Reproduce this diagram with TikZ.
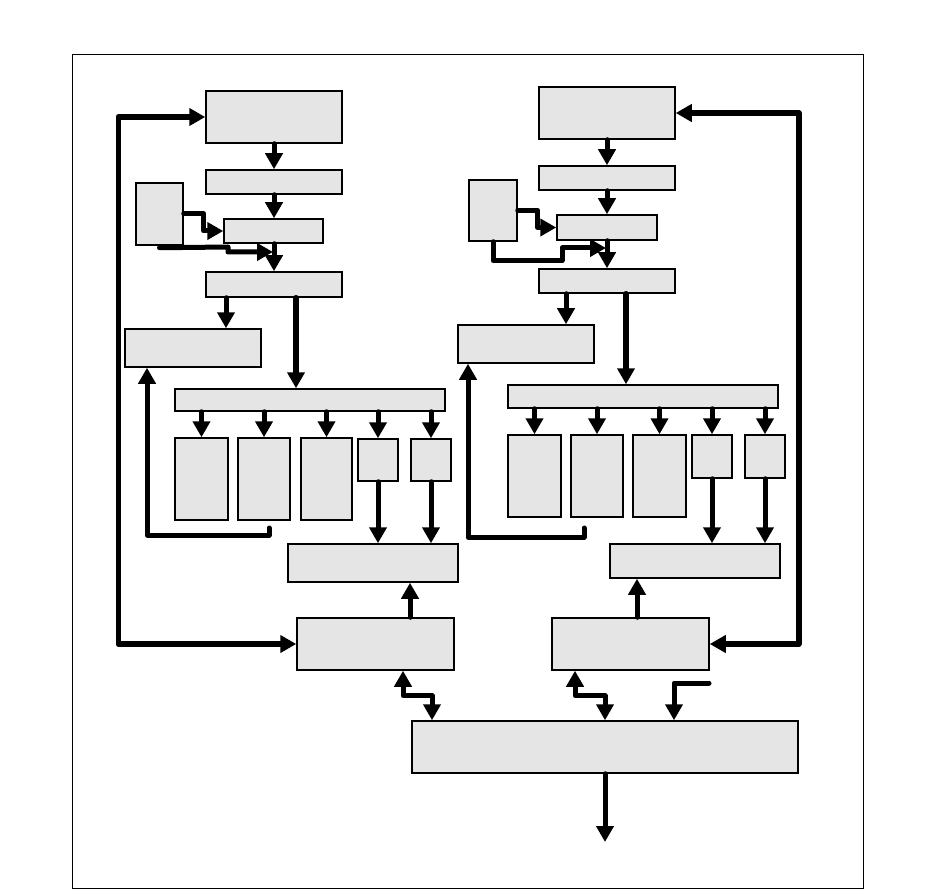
\documentclass[tikz,border=0pt]{standalone}
\usetikzlibrary{arrows.meta}
\definecolor{boxgray}{HTML}{E5E5E5}
\begin{document}
\begin{tikzpicture}[
  x=1pt, y=-1pt,
  box/.style={draw, fill=boxgray, line width=1.5pt, inner sep=0pt},
  arr/.style={-{Triangle[length=16pt,width=17pt]}, line width=5pt, line cap=round, line join=round},
  dbl/.style={arr, {Triangle[length=16pt,width=17pt]}-{Triangle[length=16pt,width=17pt]}}
]
\useasboundingbox (0,0) rectangle (936,890);
\draw[line width=1pt] (72,55) rectangle (863,888);

% left half
\node[box, minimum width=136pt, minimum height=52pt] (l1) at (274,117) {};
\node[box, minimum width=136pt, minimum height=24pt] (l2) at (274,182) {};
\node[box, minimum width=47pt, minimum height=62pt] (ls) at (159.5,214) {};
\node[box, minimum width=99pt, minimum height=24pt] (l3) at (273.5,231) {};
\node[box, minimum width=136pt, minimum height=25pt] (l4) at (274,284.5) {};
\node[box, minimum width=136pt, minimum height=38pt] (l5) at (193,348) {};
\node[box, minimum width=270pt, minimum height=22pt] (l6) at (310,400) {};
\node[box, minimum width=53pt, minimum height=82pt] (la) at (201.5,479) {};
\node[box, minimum width=52pt, minimum height=82pt] (lb) at (264,479) {};
\node[box, minimum width=51pt, minimum height=82pt] (lc) at (326.5,479) {};
\node[box, minimum width=40pt, minimum height=42pt] (ld) at (378,460) {};
\node[box, minimum width=40pt, minimum height=42pt] (le) at (431,460) {};
\node[box, minimum width=170pt, minimum height=38pt] (l7) at (373,563) {};
\node[box, minimum width=157pt, minimum height=52pt] (l8) at (375.5,644) {};

% right half
\node[box, minimum width=136pt, minimum height=52pt] (r1) at (607,113) {};
\node[box, minimum width=136pt, minimum height=24pt] (r2) at (607,178) {};
\node[box, minimum width=48pt, minimum height=61pt] (rs) at (493,210.5) {};
\node[box, minimum width=100pt, minimum height=25pt] (r3) at (607,227.5) {};
\node[box, minimum width=136pt, minimum height=24pt] (r4) at (607,281) {};
\node[box, minimum width=136pt, minimum height=38pt] (r5) at (526,344) {};
\node[box, minimum width=270pt, minimum height=23pt] (r6) at (643,396.5) {};
\node[box, minimum width=53pt, minimum height=82pt] (ra) at (534.5,476) {};
\node[box, minimum width=52pt, minimum height=82pt] (rb) at (597,476) {};
\node[box, minimum width=53pt, minimum height=82pt] (rc) at (659.5,476) {};
\node[box, minimum width=40pt, minimum height=43pt] (rd) at (712,456.5) {};
\node[box, minimum width=40pt, minimum height=43pt] (re) at (765,456.5) {};
\node[box, minimum width=170pt, minimum height=34pt] (r7) at (695,561) {};
\node[box, minimum width=157pt, minimum height=52pt] (r8) at (630.5,644) {};

% shared box
\node[box, minimum width=386pt, minimum height=52pt] (bus) at (605,747) {};

\coordinate (jl) at (273,252);
\coordinate (jr) at (606,248);
\coordinate (fbl) at (269,528);
\coordinate (fbr) at (584,528);
\coordinate (inr) at (709,683);
\coordinate (out) at (605,842);

% left connectors
\draw[arr] (l1.south) -- (l2.north);
\draw[arr] (l2.south) -- (l2.south |- l3.north);
\draw[arr] (ls.east) -- ++(20,0) |- (l3.west);
\draw[arr] ([yshift=-2pt]ls.south) -- (228,247) -- (228,252) -- (jl);
\draw[arr] (l3.south -| l2.south) -- (l4.north);
\draw[arr] ([xshift=-48pt]l4.south) -- ([xshift=-48pt]l4.south |- l5.north);
\draw[arr, line width=5.5pt] ([xshift=22pt]l4.south) -- ([xshift=22pt]l4.south |- l6.north);
\draw[arr] (l6.south -| la.north) -- (la.north);
\draw[arr] (l6.south -| lb.north) -- (lb.north);
\draw[arr] (l6.south -| lc.north) -- (lc.north);
\draw[arr] (l6.south -| ld.north) -- (ld.north);
\draw[arr] (l6.south -| le.north) -- (le.north);
\draw[arr] (ld.south) -- (ld.south |- l7.north);
\draw[arr] (le.south) -- (le.south |- l7.north);
\draw[arr] (fbl) -- ++(0,7) -| ([xshift=-46pt]l5.south);
\draw[arr] ([xshift=34.5pt]l8.north) -- ([xshift=34.5pt]l8.north |- l7.south);
\draw[dbl, line width=5.5pt] (l1.west) -- ++(-87,0) |- (l8.west);
\draw[dbl] ([xshift=27.5pt]l8.south) -- ++(0,25) -| ([xshift=-173pt]bus.north);

% right connectors
\draw[arr] (r1.south) -- (r2.north);
\draw[arr] (r2.south) -- (r3.north);
\draw[arr] (rs.east) -- ++(20,0) |- (r3.west);
\draw[arr] (rs.south) -- ++(0,19) -| (562,248) -- (jr);
\draw[arr] (r3.south) -- (r4.north);
\draw[arr] ([xshift=-41pt]r4.south) -- ([xshift=-41pt]r4.south |- r5.north);
\draw[arr, line width=5.5pt] ([xshift=19pt]r4.south) -- ([xshift=19pt]r4.south |- r6.north);
\draw[arr] (r6.south -| ra.north) -- (ra.north);
\draw[arr] (r6.south -| rb.north) -- (rb.north);
\draw[arr] (r6.south -| rc.north) -- (rc.north);
\draw[arr] (r6.south -| rd.north) -- (rd.north);
\draw[arr] (r6.south -| re.north) -- (re.north);
\draw[arr] (rd.south) -- (rd.south |- r7.north);
\draw[arr] (re.south) -- (re.south |- r7.north);
\draw[arr] (fbr) -- ++(0,9) -| ([xshift=-58pt]r5.south);
\draw[arr] ([xshift=6.5pt]r8.north) -- ([xshift=6.5pt]r8.north |- r7.south);
\draw[dbl, line width=5.5pt] (r1.east) -- ++(123,0) |- (r8.east);
\draw[dbl] ([xshift=-55.5pt]r8.south) -- ++(0,25) -| (bus.north);
\draw[arr] (inr) -| ([xshift=69pt]bus.north);
\draw[arr] (bus.south) -- (out);
\end{tikzpicture}
\end{document}
